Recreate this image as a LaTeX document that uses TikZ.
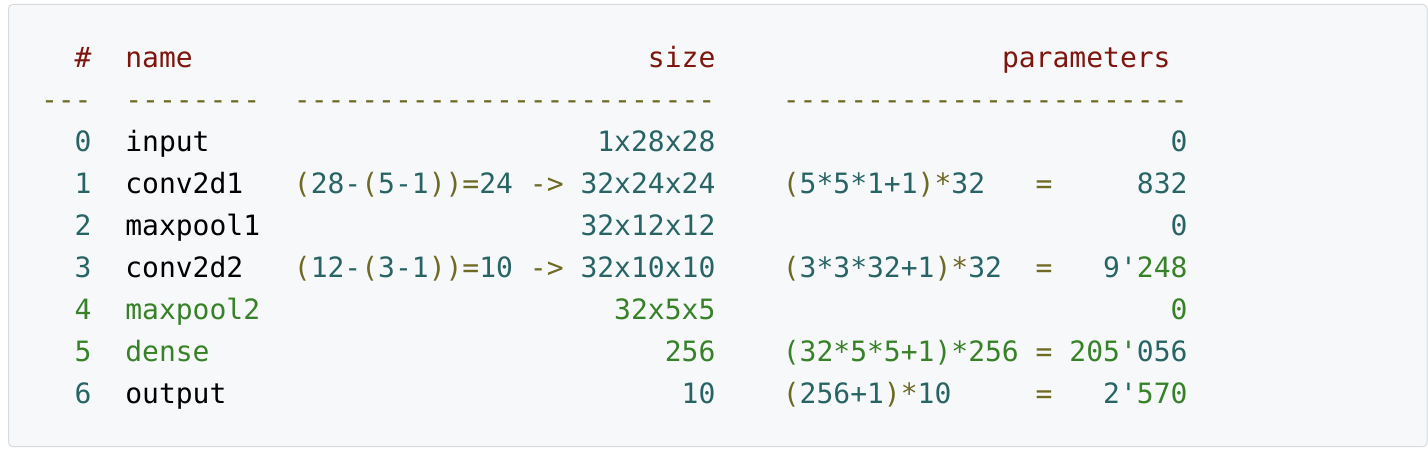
\documentclass[tikz,border=0pt]{standalone}
\usepackage{fontspec}
\setmonofont{DejaVu Sans Mono}
\definecolor{hdr}{RGB}{125,22,14}
\definecolor{olv}{RGB}{110,105,35}
\definecolor{tel}{RGB}{40,100,100}
\definecolor{grn}{RGB}{55,130,40}
\definecolor{bgc}{RGB}{246,248,250}
\definecolor{brd}{RGB}{216,219,222}
\newcommand\cOl[1]{\textcolor{olv}{#1}}
\newcommand\cTl[1]{\textcolor{tel}{#1}}
\newcommand\cGr[1]{\textcolor{grn}{#1}}
\newcommand\tk[4]{\node[tok,text=#3] (t#1x#2) at ({41+#2*16.86},{68+#1*42}) {#4};}
\tikzset{tok/.style={anchor=base west,inner sep=0pt,outer sep=0pt,font=\ttfamily\fontsize{28pt}{33pt}\selectfont}}
\begin{document}
\begin{tikzpicture}[x=1pt,y=-1pt]
\useasboundingbox (0,0) rectangle (1428,454);
\fill[white] (0,0) rectangle (1428,454);
\draw[brd,fill=bgc,line width=1pt,rounded corners=4pt] (8.5,4.5) rectangle (1427,446.5);
% header
\tk{0}{2}{hdr}{\#}
\tk{0}{5}{hdr}{name}
\tk{0}{36}{hdr}{size}
\tk{0}{57}{hdr}{parameters}
% rules
\tk{1}{0}{olv}{---}
\tk{1}{5}{olv}{--------}
\tk{1}{15}{olv}{-------------------------}
\tk{1}{44}{olv}{------------------------}
% row 0
\tk{2}{2}{tel}{0}
\tk{2}{5}{black}{input}
\tk{2}{33}{tel}{1x28x28}
\tk{2}{67}{tel}{0}
% row 1
\tk{3}{2}{tel}{1}
\tk{3}{5}{black}{conv2d1}
\tk{3}{15}{tel}{\cOl{(}28-\cOl{(}5-1\cOl{))=}24}
\tk{3}{29}{olv}{->}
\tk{3}{32}{tel}{32x24x24}
\tk{3}{44}{tel}{\cOl{(}5*5*1+1\cOl{)*}32}
\tk{3}{59}{olv}{=}
\tk{3}{65}{tel}{832}
% row 2
\tk{4}{2}{tel}{2}
\tk{4}{5}{black}{maxpool1}
\tk{4}{32}{tel}{32x12x12}
\tk{4}{67}{tel}{0}
% row 3
\tk{5}{2}{tel}{3}
\tk{5}{5}{black}{conv2d2}
\tk{5}{15}{tel}{\cOl{(}12-\cOl{(}3-1\cOl{))=}10}
\tk{5}{29}{olv}{->}
\tk{5}{32}{tel}{32x10x10}
\tk{5}{44}{tel}{\cOl{(}3*3*32+1\cOl{)*}32}
\tk{5}{59}{olv}{=}
\tk{5}{63}{tel}{9'\cGr{248}}
% row 4
\tk{6}{2}{grn}{4}
\tk{6}{5}{grn}{maxpool2}
\tk{6}{34}{grn}{32x5x5}
\tk{6}{67}{grn}{0}
% row 5
\tk{7}{2}{grn}{5}
\tk{7}{5}{grn}{dense}
\tk{7}{37}{grn}{256}
\tk{7}{44}{grn}{(32*5*5+1)*256}
\tk{7}{59}{olv}{=}
\tk{7}{61}{grn}{205'\cTl{056}}
% row 6
\tk{8}{2}{tel}{6}
\tk{8}{5}{black}{output}
\tk{8}{38}{tel}{10}
\tk{8}{44}{tel}{\cOl{(}256+1\cOl{)*}10}
\tk{8}{59}{olv}{=}
\tk{8}{63}{tel}{2'\cGr{570}}
\end{tikzpicture}
\end{document}
